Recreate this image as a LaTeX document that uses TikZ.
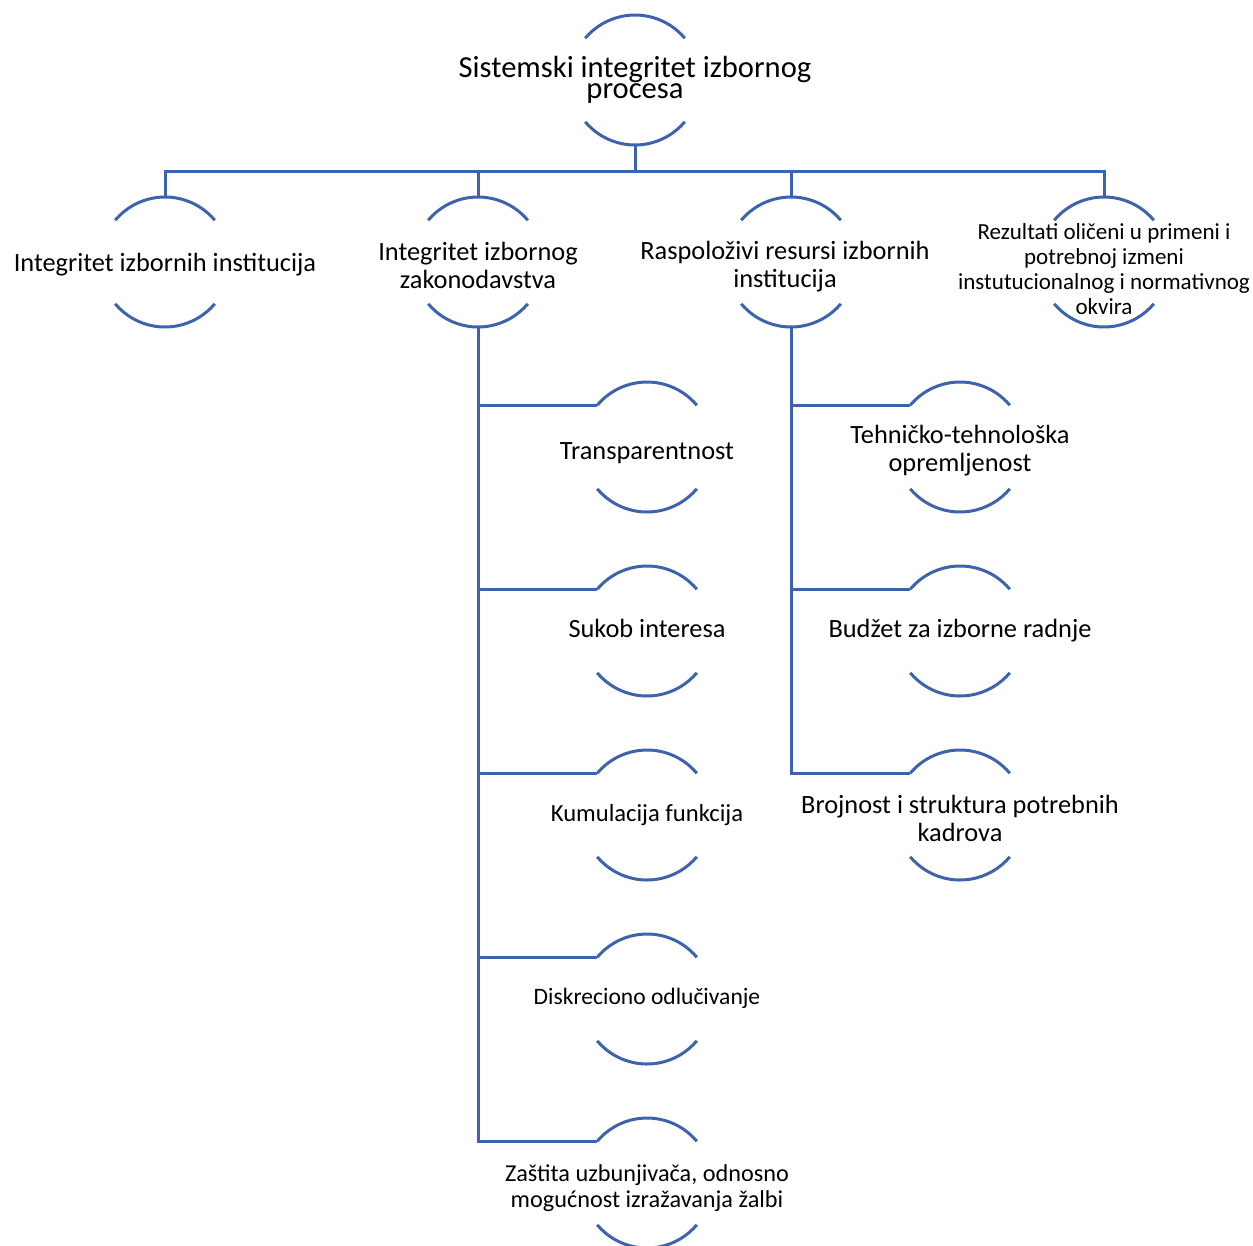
\documentclass[tikz,border=0pt]{standalone}
\usepackage{fontspec}
\setmainfont{Carlito}
\usepackage{tikz}
\usepackage{xcolor}
\definecolor{ringblue}{RGB}{60,99,171}
\newcommand{\bubble}[7][] {
    \node[ring] (#2) at ({#3}, {#4}) {};
    \node[lbl,font={\fontsize{#5}{#6}\selectfont\lineskiplimit=-50pt},#1] (#2-t) at (#2) {#7};
    \draw[bline] (#2.40) arc[start angle=40, end angle=140, radius=13mm];
    \draw[bline] (#2.220) arc[start angle=220, end angle=320, radius=13mm];
}
\tikzset{
    ring/.style={
        circle,
        minimum size=26mm,
        inner sep=0mm,
        outer sep=0mm
    },
    lbl/.style={
        align=center,
        inner sep=0mm,
        text=black
    },
    bline/.style={
        draw=ringblue,
        line width=0.6mm
    }
}

\begin{document}
\begin{tikzpicture}[x=0.2mm, y=0.2mm]
    \useasboundingbox (0,0) rectangle (1253,-1245);
    \bubble{top}{635}{-80}{17.4}{12}{Sistemski integritet izbornog\\procesa}
    \bubble[yshift=-0.6mm]{inst}{165}{-262}{15}{15.9}{Integritet izbornih institucija}
    \bubble[yshift=-0.6mm]{zak}{478}{-262}{15}{15.9}{Integritet izbornog\\zakonodavstva}
    \bubble[yshift=-0.9mm,xshift=-1.2mm]{res}{791}{-262}{15}{15.9}{Raspoloživi resursi izbornih\\institucija}
    \bubble[yshift=-1.4mm]{rez}{1104}{-262}{13.1}{14.2}{Rezultati oličeni u primeni i\\potrebnoj izmeni\\instutucionalnog i normativnog\\okvira}
    \bubble[yshift=-1.3mm]{tr}{647}{-447}{15}{15.9}{Transparentnost}
    \bubble[yshift=0.6mm]{sk}{647}{-631}{15}{15.9}{Sukob interesa}
    \bubble{ku}{647}{-815}{14}{15}{Kumulacija funkcija}
    \bubble[yshift=0.2mm]{di}{647}{-999}{13.4}{14.5}{Diskreciono odlučivanje}
    \bubble[yshift=-1mm]{za}{647}{-1183}{13.8}{14.7}{Zaštita uzbunjivača, odnosno\\mogućnost izražavanja žalbi}
    \bubble[yshift=-0.8mm]{teh}{960}{-447}{15}{15.9}{Tehničko-tehnološka\\opremljenost}
    \bubble{bud}{960}{-631}{15}{15.9}{Budžet za izborne radnje}
    \bubble[yshift=-0.6mm]{broj}{960}{-815}{15}{15.9}{Brojnost i struktura potrebnih\\kadrova}
    \coordinate (bus) at (635,-171);
    \draw[bline] (top.south) -- (bus);
    \foreach \n in {inst,zak,res,rez}
        \draw[bline] (\n.north) |- (bus);
    \foreach \c in {tr,sk,ku,di,za}
        \draw[bline] (zak.south) |- (\c.140);
    \foreach \c in {teh,bud,broj}
        \draw[bline] (res.south) |- (\c.140);
\end{tikzpicture}
\end{document}
